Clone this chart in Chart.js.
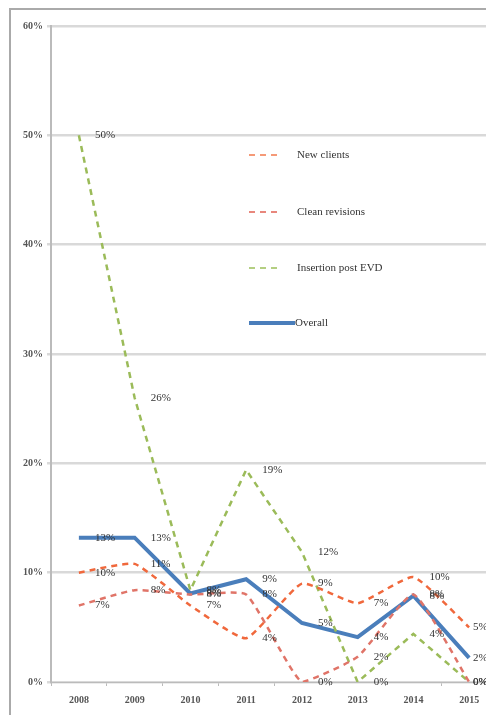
<!DOCTYPE html>
<html>
<head>
<meta charset="utf-8">
<script src="https://cdn.jsdelivr.net/npm/chart.js@4.4.0/dist/chart.umd.min.js"></script>
<style>
html,body{margin:0;padding:0;background:#fff;overflow:hidden;width:486px;height:715px}
#frame{position:absolute;left:9px;top:8px;border-left:2px solid #aaa;border-top:2px solid #aaa;width:490px;height:720px}
#chart{display:block}
</style>
</head>
<body>
<div id="frame"><canvas id="chart" width="488" height="705"></canvas></div>
<script>
// Data
const years = ["2008","2009","2010","2011","2012","2013","2014","2015"];
const newClients = [10, 10.8, 7, 4, 9, 7.2, 9.6, 5];
const cleanRevisions = [7, 8.4, 8, 8, 0, 2.3, 8, 0];
const insertionPostEVD = [50, 26, 8.4, 19.4, 11.9, 0, 4.4, 0];
const overall = [13.2, 13.2, 8.1, 9.4, 5.4, 4.1, 7.9, 2.2];
const yTicks = [0, 10, 20, 30, 40, 50, 60];

const serif = "'Liberation Serif','DejaVu Serif',serif";

// labels drawn to the right of each point, pulled back near the right edge
const pointLabels = {
    id: "pointLabels",
    afterDatasetsDraw(chart){
        const ctx = chart.ctx;
        ctx.save();
        ctx.font = "11px " + serif;
        ctx.fillStyle = "#333";
        ctx.textBaseline = "middle";
        const maxX = chart.chartArea.right - 24;
        chart.data.datasets.forEach((ds,i)=>{
            chart.getDatasetMeta(i).data.forEach((pt,j)=>{
                ctx.fillText(Math.round(ds.data[j]) + "%", Math.min(pt.x + 16, maxX), pt.y);
            });
        });
        ctx.restore();
    }
};

// legend sits inside the plot, stacked with wide gaps
const innerLegend = {
    id: "innerLegend",
    afterDraw(chart){
        const ctx = chart.ctx;
        const x0 = 238, rows = [145, 202, 258, 313];
        ctx.save();
        ctx.font = "11px " + serif;
        ctx.textBaseline = "middle";
        chart.data.datasets.forEach((ds,i)=>{
            const y = rows[i];
            const dashed = ds.borderDash.length > 0;
            ctx.strokeStyle = ds.legendColor || ds.borderColor;
            ctx.lineWidth = dashed ? 2 : 4;
            ctx.setLineDash(ds.borderDash);
            ctx.beginPath();
            ctx.moveTo(x0, y);
            ctx.lineTo(dashed ? x0 + 28 : x0 + 46, y);
            ctx.stroke();
            ctx.setLineDash([]);
            ctx.fillStyle = "#333";
            ctx.fillText(ds.label, dashed ? x0 + 48 : x0 + 46, y);
        });
        ctx.restore();
    }
};

new Chart(document.getElementById("chart"), {
    type: "line",
    data: {
        labels: years,
        datasets: [
            {label:"New clients", data:newClients, borderColor:"#f0683c", legendColor:"#f59a78", borderWidth:2.5, borderDash:[6,5], pointRadius:0, tension:0.15},
            {label:"Clean revisions", data:cleanRevisions, borderColor:"#e07468", legendColor:"#e8877c", borderWidth:2.5, borderDash:[6,5], pointRadius:0, tension:0.15},
            {label:"Insertion post EVD", data:insertionPostEVD, borderColor:"#9bbb59", legendColor:"#b4cf82", borderWidth:2.5, borderDash:[6,5], pointRadius:0, tension:0},
            {label:"Overall", data:overall, borderColor:"#4a7ebb", borderWidth:4, borderDash:[], pointRadius:0, tension:0}
        ]
    },
    options: {
        responsive: false,
        animation: false,
        layout: {padding:{top:16, right:2, left:0, bottom:0}},
        plugins: {legend:{display:false}, tooltip:{enabled:false}},
        scales: {
            x: {
                offset: true,
                grid: {display:true, drawOnChartArea:false, offset:true, tickLength:4, color:"#bbb"},
                border: {color:"#bbb", width:1},
                ticks: {font:{family:serif, size:10, weight:"bold"}, color:"#555", padding:8},
                afterFit(scale){ scale.height = 33; }
            },
            y: {
                min: 0, max: 60,
                afterBuildTicks(scale){ scale.ticks = yTicks.map(v=>({value:v})); },
                grid: {color:"#d9d9d9", lineWidth:2.5, tickLength:4},
                border: {color:"#bbb", width:2},
                ticks: {font:{family:serif, size:10, weight:"bold"}, color:"#555", padding:4, callback:v=>v+"%"},
                afterFit(scale){ scale.width = 40; }
            }
        }
    },
    plugins: [pointLabels, innerLegend]
});
</script>
</body>
</html>
